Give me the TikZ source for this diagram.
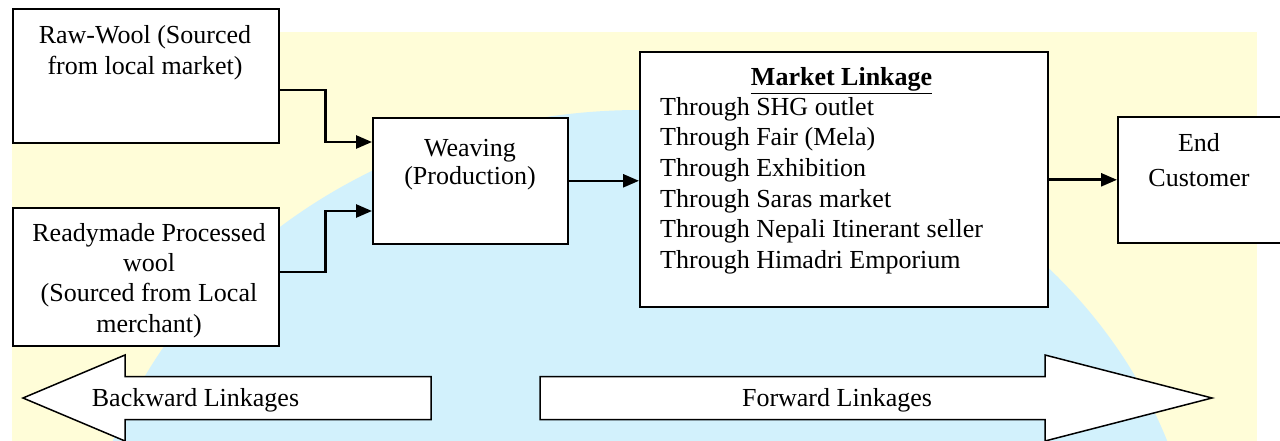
\documentclass[tikz,border=0pt]{standalone}
\usepackage{fontspec}
\setmainfont{Liberation Serif}
\usetikzlibrary{arrows.meta}
\definecolor{bgyellow}{RGB}{255,253,216}
\definecolor{bgblue}{RGB}{210,241,252}
\definecolor{bgpale}{RGB}{246,252,252}
% soft globe watermark: blue core fading through white to the yellow page tint
\pgfdeclareradialshading{globe}{\pgfpoint{0bp}{0bp}}{color(0bp)=(bgblue); color(32bp)=(bgblue); color(44bp)=(bgpale); color(50bp)=(bgyellow)}
\begin{document}
\begin{tikzpicture}[x=1pt,y=-1pt,
  box/.style={draw=black, line width=1.6pt, fill=white, inner sep=0pt, anchor=north west},
  conn/.style={line width=2.6pt, -{Triangle[length=16pt,width=13pt]}},
  txt/.style={inner sep=0pt, align=center, anchor=north},
  lbl/.style={inner sep=0pt, anchor=base, font=\fontsize{26}{30}\selectfont},
  bigarrow/.style={draw=black, line width=1.5pt, fill=white, line join=miter}]

\useasboundingbox (0,0) rectangle (1280,441);

% background tint
\begin{scope}
  \clip (12,32) rectangle (1257,441);
  \fill[bgyellow] (12,32) rectangle (1257,441);
  \shade[shading=globe] (640,610) ellipse [x radius=560pt, y radius=500pt];
\end{scope}

% boxes
\node[box, minimum width=266pt, minimum height=134pt] (raw) at (12,8) {};
\node[box, minimum width=266pt, minimum height=138pt] (ready) at (12,207) {};
\node[box, minimum width=195pt, minimum height=126pt] (weave) at (372,117) {};
\node[box, minimum width=408pt, minimum height=255pt] (market) at (639,51) {};
\node[box, minimum width=166pt, minimum height=126pt] (endc) at (1117,116) {};

% box texts
\node[txt, font=\fontsize{26}{31}\selectfont] (rawtxt) at (145,21.3)
  {\strut Raw-Wool (Sourced\\from local market)};
\node[txt, font=\fontsize{26}{30.3}\selectfont] (readytxt) at (149,219.8)
  {\strut Readymade Processed\\wool\\(Sourced from Local\\merchant)};
\node[txt, font=\fontsize{26}{28}\selectfont] (weavetxt) at (470,136.4)
  {\strut Weaving\\(Production)};
\node[lbl, font=\fontsize{26}{30}\selectfont\bfseries] (mkthead) at (841.6,86)
  {\underline{Market Linkage}};
\node[txt, anchor=north west, align=left, font=\fontsize{26}{30.6}\selectfont] (mktlist) at (660,93.6)
  {\strut Through SHG outlet\\Through Fair (Mela)\\Through Exhibition\\Through Saras market\\Through Nepali Itinerant seller\\Through Himadri Emporium};
\node[txt, font=\fontsize{26}{35}\selectfont] (endtxt) at (1199,127.2)
  {\strut End\\Customer};

% connectors
\draw[conn] ([yshift=-82pt]raw.north east) -- ++(46,0) |- ([yshift=-25pt]weave.north west);
\draw[conn] ([yshift=-65pt]ready.north east) -- ++(46,0) |- ([yshift=-94pt]weave.north west);
\draw[conn] (weave.east) -- (weave.east -| market.west);
\draw[conn] (market.east |- endc.west) -- (endc.west);

% linkage block arrows
\draw[bigarrow] (23,398) -- (125,355) -- (125,376.5) -- (431,376.5) -- (431,419.5)
  -- (125,419.5) -- (125,441) -- cycle;
\node[lbl] (backlbl) at (195.5,406) {Backward Linkages};
\draw[bigarrow] (540,376.5) -- (1045,376.5) -- (1045,355) -- (1212,398) -- (1045,441)
  -- (1045,419.5) -- (540,419.5) -- cycle;
\node[lbl] (fwdlbl) at (837,406) {Forward Linkages};
\end{tikzpicture}
\end{document}
